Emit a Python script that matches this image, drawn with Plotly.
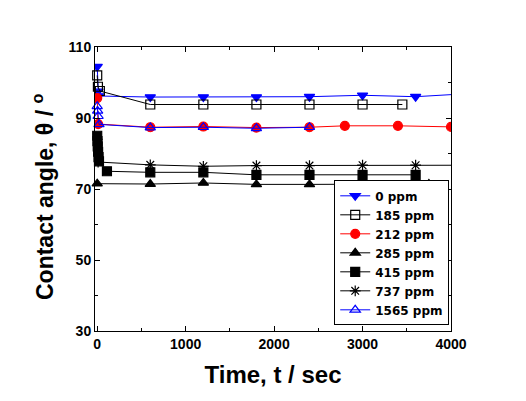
import plotly.graph_objects as go

# ---- data ----
t_0 = [0, 8, 15, 600, 1200, 1800, 2400, 3000, 3600, 4150]
y_0 = [104.5, 97.5, 96.2, 95.9, 95.9, 95.9, 96.0, 96.4, 96.0, 96.8]

t_185 = [0, 8, 30, 600, 1200, 1800, 2400, 3000, 3450]
y_185 = [102.0, 98.8, 97.6, 93.8, 93.8, 93.8, 93.8, 93.8, 93.8]

t_212 = [0, 10, 600, 1200, 1800, 2400, 2800, 3400, 4000]
y_212 = [95.6, 88.3, 87.4, 87.6, 87.3, 87.4, 87.8, 87.8, 87.5]

t_285 = [0, 600, 1200, 1800, 2400, 3000, 3600, 3750]
y_285 = [71.5, 71.4, 71.7, 71.3, 71.3, 71.3, 71.3, 71.4]

t_415 = [0, 3, 6, 10, 15, 20, 110, 600, 1200, 1800, 2400, 3000, 3600]
y_415 = [85.0, 83.5, 82.0, 80.5, 79.0, 77.8, 75.0, 74.7, 74.7, 74.0, 74.0, 74.0, 74.0]

t_737 = [0, 10, 600, 1200, 1800, 2400, 3000, 3600, 4150]
y_737 = [84.0, 77.6, 76.8, 76.4, 76.6, 76.6, 76.7, 76.7, 76.7]

t_1565 = [0, 5, 10, 20, 600, 1200, 1800, 2400]
y_1565 = [93.3, 92.0, 90.5, 88.2, 87.3, 87.4, 87.1, 87.4]

series = [
    ("0 ppm", t_0, y_0, "triangle-down", "#0000FF", "#0000FF", True),
    ("185 ppm", t_185, y_185, "square-open", "black", "black", False),
    ("212 ppm", t_212, y_212, "circle", "#FF0000", "#FF0000", True),
    ("285 ppm", t_285, y_285, "triangle-up", "black", "black", False),
    ("415 ppm", t_415, y_415, "square", "black", "black", False),
    ("737 ppm", t_737, y_737, "asterisk-open", "black", "black", True),
    ("1565 ppm", t_1565, y_1565, "triangle-up-open", "#0000FF", "#0000FF", False),
]

fig = go.Figure()
for name, t, y, sym, lc, mc, clip in series:
    fig.add_trace(go.Scatter(
        x=t, y=y, name=name, mode="lines+markers",
        line=dict(color=lc, width=1),
        marker=dict(symbol=sym, color=mc, size=9,
                    line=dict(color=mc, width=1.2)),
        cliponaxis=clip,
    ))

font = "Liberation Sans, Arial, sans-serif"
axis_common = dict(
    showline=True, linecolor="black", linewidth=1, mirror="allticks",
    ticks="inside", ticklen=5, tickwidth=1, tickcolor="black",
    showgrid=False, zeroline=False, automargin=False,
    tickfont=dict(family=font, size=14, color="black", weight="bold"),
)

fig.update_xaxes(
    range=[-25, 4000], dtick=1000, tick0=0,
    minor=dict(dtick=500, ticks="inside", ticklen=3, tickcolor="black"),
    title=dict(text="<b>Time, t / sec</b>", font=dict(family=font, size=24, color="black"), standoff=15),
    **axis_common,
)
fig.update_yaxes(
    range=[30, 110], dtick=20, tick0=30,
    minor=dict(dtick=10, ticks="inside", ticklen=3, tickcolor="black"),
    **axis_common,
)

fig.add_annotation(
    text="<b>Contact angle, θ / <sup>o</sup></b>",
    xref="paper", yref="paper", x=0, y=0.5, xanchor="center", yanchor="middle",
    xshift=-52, yshift=-8, textangle=-90, showarrow=False,
    font=dict(family=font, size=23, color="black"),
)

fig.update_layout(
    width=526, height=401,
    margin=dict(l=87, r=83, t=39, b=78),
    plot_bgcolor="white", paper_bgcolor="white",
    legend=dict(
        x=0.995, y=0.02, xanchor="right", yanchor="bottom",
        bgcolor="white", bordercolor="black", borderwidth=1,
        font=dict(family="DejaVu Sans", size=12, color="black", weight="bold"),
        tracegroupgap=0, itemwidth=30,
    ),
    showlegend=True,
)

fig.write_html("out.html")
